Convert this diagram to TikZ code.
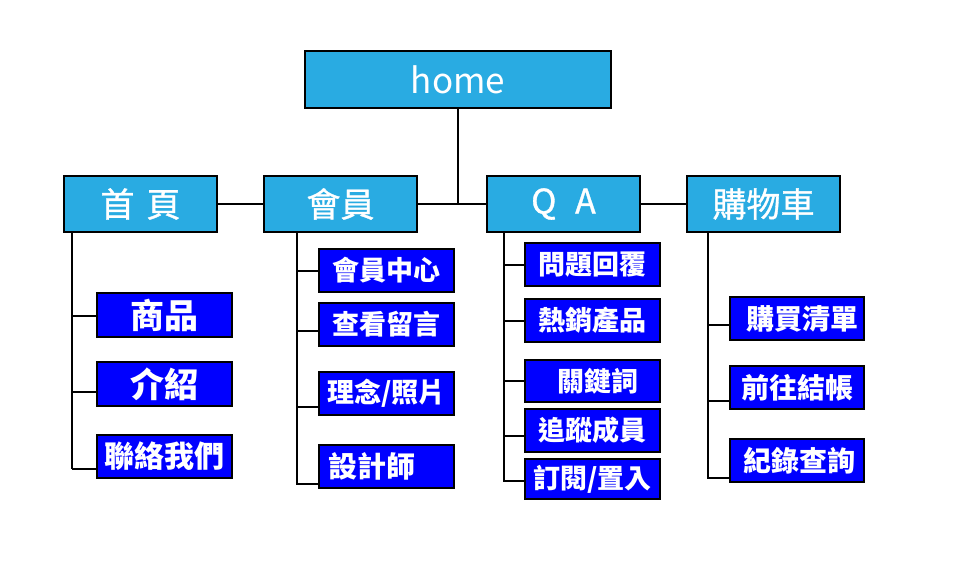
\documentclass[tikz,border=0pt]{standalone}
\usepackage{fontspec}
\setmainfont{Noto Sans CJK TC}
\newfontfamily\midfont[FakeBold=1]{Noto Sans CJK TC}
\definecolor{topblue}{RGB}{41,171,226}
\definecolor{kidblue}{RGB}{0,0,255}
\tikzset{
  topbox/.style={draw=black, line width=1.3pt, fill=topblue, text=white, inner sep=0pt, minimum width=153pt, minimum height=56pt, font=\midfont\fontsize{34}{34}\selectfont},
  kidbox/.style={draw=black, line width=1.3pt, fill=kidblue, text=white, inner sep=0pt, minimum width=135pt, minimum height=43pt, font=\bfseries\fontsize{27}{27}\selectfont},
  link/.style={draw=black, line width=1.1pt}
}
\begin{document}
\begin{tikzpicture}[x=1pt,y=-1pt]
\useasboundingbox (0,0) rectangle (960,560);
% root
\node[topbox, minimum width=306pt, minimum height=57pt, font=\normalfont\fontsize{35}{35}\selectfont] (home) at (458,79.5) {home};
% level 1
\node[topbox] (h1) at (140.5,204) {首\hspace{0.35em}頁};
\node[topbox] (h2) at (340.5,204) {會員};
\node[topbox] (h3) at (563.5,204) {Q\hspace{0.55em}A};
\node[topbox] (h4) at (763.5,204) {購物車};
% children of 首頁
\node[kidbox, minimum height=44pt, font=\bfseries\fontsize{34}{34}\selectfont] (a1) at (164.5,315) {商品};
\node[kidbox, minimum height=44pt, font=\bfseries\fontsize{34}{34}\selectfont] (a2) at (164.5,384) {介紹};
\node[kidbox, font=\bfseries\fontsize{30}{30}\selectfont] (a3) at (164.5,456.5) {聯絡我們};
% children of 會員
\node[kidbox] (b1) at (386.5,270.5) {會員中心};
\node[kidbox] (b2) at (386.5,324.5) {查看留言};
\node[kidbox] (b3) at (386.5,393.5) {理念/照片};
\node[kidbox, font=\bfseries\fontsize{29}{29}\selectfont] (b4) at (386.5,466.5) {設計師\kern30pt};
% children of QA
\node[kidbox] (c1) at (592.5,264.5) {問題回覆};
\node[kidbox] (c2) at (592.5,320.5) {熱銷產品};
\node[kidbox, minimum height=42pt] (c3) at (592.5,381) {\kern11pt關鍵詞};
\node[kidbox] (c4) at (592.5,430.5) {追蹤成員};
\node[kidbox, minimum height=40pt] (c5) at (592.5,479) {訂閱/置入};
% children of 購物車
\node[kidbox, minimum width=134pt, font=\bfseries\fontsize{28}{28}\selectfont] (d1) at (797,318.5) {\kern10pt購買清單};
\node[kidbox, minimum width=134pt, font=\bfseries\fontsize{28}{28}\selectfont] (d2) at (797,387.5) {前往結帳};
\node[kidbox, minimum width=134pt, font=\bfseries\fontsize{28}{28}\selectfont] (d3) at (797,460.5) {\kern4pt紀錄查詢};
% level-1 connectors
\coordinate (j) at (458,204);
\draw[link] (home.south) -- (j);
\draw[link] (h1.east) -- (h2.west);
\draw[link] (h2.east) -- (h3.west);
\draw[link] (h3.east) -- (h4.west);
% trunks
\coordinate (t1) at (72,469);
\coordinate (t2) at (297,485);
\coordinate (t3) at (504,482);
\coordinate (t4) at (708,479);
\draw[link] (h1.south -| t1) -- (t1);
\draw[link] (h2.south -| t2) -- (t2);
\draw[link] (h3.south -| t3) -- (t3);
\draw[link] (h4.south -| t4) -- (t4);
% branch ends on the boxes
\coordinate (ka1) at (97,316);
\coordinate (ka2) at (97,392);
\coordinate (ka3) at (97,469);
\coordinate (kb1) at (319,271);
\coordinate (kb2) at (319,331);
\coordinate (kb3) at (319,407);
\coordinate (kb4) at (319,484);
\coordinate (kc1) at (525,265);
\coordinate (kc2) at (525,321);
\coordinate (kc3) at (525,381);
\coordinate (kc4) at (525,436);
\coordinate (kc5) at (525,481);
\coordinate (kd1) at (730,325);
\coordinate (kd2) at (730,401);
\coordinate (kd3) at (730,478);
\foreach \k in {ka1,ka2,ka3} {\draw[link] (\k -| t1) -- (\k);}
\foreach \k in {kb1,kb2,kb3,kb4} {\draw[link] (\k -| t2) -- (\k);}
\foreach \k in {kc1,kc2,kc3,kc4,kc5} {\draw[link] (\k -| t3) -- (\k);}
\foreach \k in {kd1,kd2,kd3} {\draw[link] (\k -| t4) -- (\k);}
\end{tikzpicture}
\end{document}
